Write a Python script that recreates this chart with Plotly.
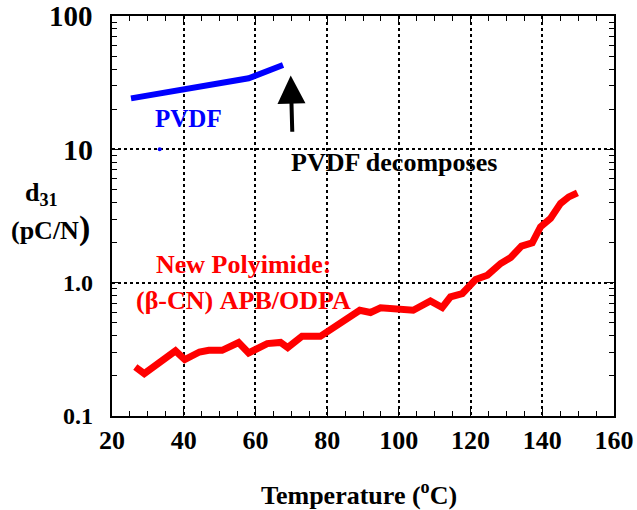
import math
import plotly.graph_objects as go

# PVDF data
pvdf_T = [25.3, 40.5, 58.1, 67.7]
pvdf_d31 = [24.1, 28.2, 34.1, 42.9]

# stray blue point
dot_T = [33.3]
dot_d31 = [10.0]

# New polyimide data
pi_T = [26.5, 29.0, 37.7, 40.3, 44.4, 47.0, 50.7, 55.3, 58.1, 63.3, 67.0, 69.0, 73.0, 77.2,
        78.1, 89.1, 92.1, 94.9, 100.0, 104.0, 108.8, 112.1, 114.4, 117.7, 121.4, 124.7,
        128.4, 131.2, 134.2, 137.2, 139.5, 142.3, 145.1, 147.4, 149.8]
pi_d31 = [0.233, 0.208, 0.308, 0.265, 0.302, 0.311, 0.311, 0.356, 0.297, 0.349, 0.356, 0.326,
          0.396, 0.392, 0.396, 0.621, 0.597, 0.647, 0.635, 0.621, 0.730, 0.651, 0.782, 0.829,
          1.056, 1.137, 1.393, 1.545, 1.878, 1.988, 2.62, 3.03, 3.93, 4.40, 4.72]

x_ticks = [20, 40, 60, 80, 100, 120, 140, 160]
y_ticks = [0.1, 1, 10, 100]
y_ticktext = ["0.1", "1.0", "10", "100"]
y_ticksize = [24, 24, 30, 29]
y_minor = [m * d for d in [0.1, 1, 10] for m in range(2, 10)]

FONT = "Liberation Serif"

fig = go.Figure()
fig.add_trace(go.Scatter(x=pvdf_T, y=pvdf_d31, mode="lines",
                         line=dict(color="#0000ff", width=6), showlegend=False))
fig.add_trace(go.Scatter(x=dot_T, y=dot_d31, mode="markers",
                         marker=dict(color="#0000ff", size=4), showlegend=False))
fig.add_trace(go.Scatter(x=pi_T, y=pi_d31, mode="lines",
                         line=dict(color="#ff0000", width=7), showlegend=False))

axis_common = dict(showline=True, linecolor="black", linewidth=1.5, mirror="allticks",
                   ticks="inside", tickcolor="black", tickwidth=1.2, ticklen=8,
                   showgrid=True, gridcolor="black", gridwidth=1.5, griddash="dot",
                   zeroline=False, automargin=False)

fig.update_xaxes(range=[20, 160], tickvals=x_ticks,
                 tickfont=dict(family=FONT, size=26, color="black", weight="bold"),
                 ticklabelstandoff=0,
                 minor=dict(dtick=5, ticks="inside", ticklen=5, tickcolor="black", showgrid=False),
                 **axis_common)
fig.update_yaxes(type="log", range=[-1, 2], tickvals=y_ticks, showticklabels=False,
                 minor=dict(tickvals=y_minor, ticks="inside", ticklen=5, tickcolor="black", showgrid=False),
                 **axis_common)

# y tick labels as annotations (sizes differ per label in the reference)
for v, t, s in zip(y_ticks, y_ticktext, y_ticksize):
    fig.add_annotation(text="<b>" + t + "</b>", x=-0.034, y=(math.log10(v) + 1) / 3,
                       xref="paper", yref="paper", showarrow=False,
                       font=dict(family=FONT, size=s, color="black"),
                       xanchor="right", yanchor="middle")

def ann(text, x, y, size, color="black", **kw):
    fig.add_annotation(text="<b>" + text + "</b>", x=x, y=y, xref="paper", yref="paper",
                       showarrow=False, font=dict(family=FONT, size=size, color=color),
                       xanchor="center", yanchor="middle", **kw)

ann("PVDF", 0.1514, 0.745, 25, "#0000ff")
ann("PVDF decomposes", 0.5618, 0.635, 26)
ann("New Polyimide:", 0.261, 0.38, 26, "#ff0000")
ann("(β-CN) APB/ODPA", 0.261, 0.29, 26, "#ff0000")
ann("d<sub>31</sub>", -0.1414, 0.555, 26)
ann('(pC/N<span style="font-size:34px">)</span>', -0.1235, 0.47, 26)
ann("Temperature (<sup>o</sup>C)", 0.492, -0.193, 26)

fig.add_annotation(x=0.356, y=0.851, xref="paper", yref="paper", ax=1.6, ay=57.6,
                   axref="pixel", ayref="pixel", text="", showarrow=True,
                   arrowhead=2, arrowsize=1.4, arrowwidth=4, arrowcolor="black")

fig.update_layout(width=637, height=510, margin=dict(l=112, r=23, t=16, b=94),
                  plot_bgcolor="white", paper_bgcolor="white",
                  font=dict(family=FONT, color="black"))

fig.write_html("out.html", config={"displayModeBar": False},
               post_script="document.body.style.margin='0';document.body.style.overflow='hidden';")
